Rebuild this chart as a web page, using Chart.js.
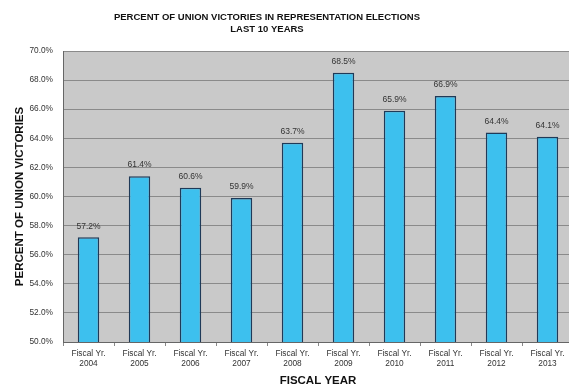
<!DOCTYPE html>
<html>
<head>
<meta charset="utf-8">
<script src="https://cdn.jsdelivr.net/npm/chart.js@4/dist/chart.umd.min.js"></script>
<style>
html,body{margin:0;padding:0;background:#fff;overflow:hidden;}
#wrap{position:relative;width:580px;height:392px;}
</style>
</head>
<body>
<div id="wrap"><canvas id="c"></canvas></div>
<script>
const categories = ["2004","2005","2006","2007","2008","2009","2010","2011","2012","2013"];
const victoryPct = [57.2, 61.4, 60.6, 59.9, 63.7, 68.5, 65.9, 66.9, 64.4, 64.1];
const titleLines = ["PERCENT OF UNION VICTORIES IN REPRESENTATION ELECTIONS", "LAST 10 YEARS"];
const yTitle = "PERCENT OF UNION VICTORIES";
const xTitle = "FISCAL YEAR";
const xLabelPrefix = "Fiscal Yr.";

const FONT = '"Liberation Sans", Arial, sans-serif';

const plotBg = {
  id: 'plotBg',
  beforeDraw(chart) {
    const {ctx, chartArea: a} = chart;
    ctx.save();
    ctx.fillStyle = '#c9c9c9';
    ctx.fillRect(a.left, a.top, a.right - a.left, a.bottom - a.top);
    ctx.restore();
  }
};
const headTitle = {
  id: 'headTitle',
  afterDraw(chart) {
    const {ctx} = chart;
    ctx.save();
    ctx.font = 'bold 9.5px ' + FONT;
    ctx.fillStyle = '#111';
    ctx.textAlign = 'center';
    ctx.textBaseline = 'middle';
    ctx.fillText(titleLines[0], 267, 17);
    ctx.fillText(titleLines[1], 267, 29);
    ctx.restore();
  }
};
const valueLabels = {
  id: 'valueLabels',
  afterDatasetsDraw(chart) {
    const {ctx} = chart;
    const meta = chart.getDatasetMeta(0);
    ctx.save();
    ctx.font = '8.5px ' + FONT;
    ctx.fillStyle = '#333';
    ctx.textAlign = 'center';
    ctx.textBaseline = 'middle';
    meta.data.forEach((bar, i) => {
      ctx.fillText(victoryPct[i].toFixed(1) + '%', bar.x, bar.y - 11);
    });
    ctx.restore();
  }
};

new Chart(document.getElementById('c'), {
  type: 'bar',
  data: {
    labels: categories.map(c => [xLabelPrefix, c]),
    datasets: [{
      data: victoryPct,
      backgroundColor: '#3dc0ee',
      borderColor: '#1f3a58',
      borderWidth: 1.5,
      barPercentage: 0.42,
      categoryPercentage: 1.0
    }]
  },
  options: {
    responsive: true,
    maintainAspectRatio: false,
    animation: false,
    layout: {padding: {top: 51, left: 0, right: 7, bottom: 0}},
    plugins: {
      legend: {display: false},
      tooltip: {enabled: false},
      title: {display: false}
    },
    scales: {
      x: {
        grid: {display: true, drawOnChartArea: false, offset: true, color: '#888', tickLength: 4},
        border: {color: '#666', width: 1},
        ticks: {
          color: '#333',
          font: {family: FONT, size: 8.3, lineHeight: 1.2},
          maxRotation: 0, autoSkip: false, padding: 3
        },
        title: {
          display: true, text: xTitle, color: '#111',
          font: {family: FONT, size: 11.5, weight: 'bold'},
          padding: {top: 0, bottom: 4}
        },
        afterFit(scale) { scale.height = 50; }
      },
      y: {
        min: 50, max: 70,
        grid: {color: '#8a8a8a', lineWidth: 1, drawTicks: false},
        border: {color: '#666', width: 1},
        ticks: {
          stepSize: 2,
          color: '#333',
          padding: 10,
          font: {family: FONT, size: 8.3},
          callback: v => v.toFixed(1) + '%'
        },
        title: {
          display: true, text: yTitle, color: '#111',
          font: {family: FONT, size: 11.5, weight: 'bold'},
          padding: {top: 13, bottom: 0}
        },
        afterFit(scale) { scale.width = 63; }
      }
    }
  },
  plugins: [plotBg, valueLabels, headTitle]
});
</script>
</body>
</html>
